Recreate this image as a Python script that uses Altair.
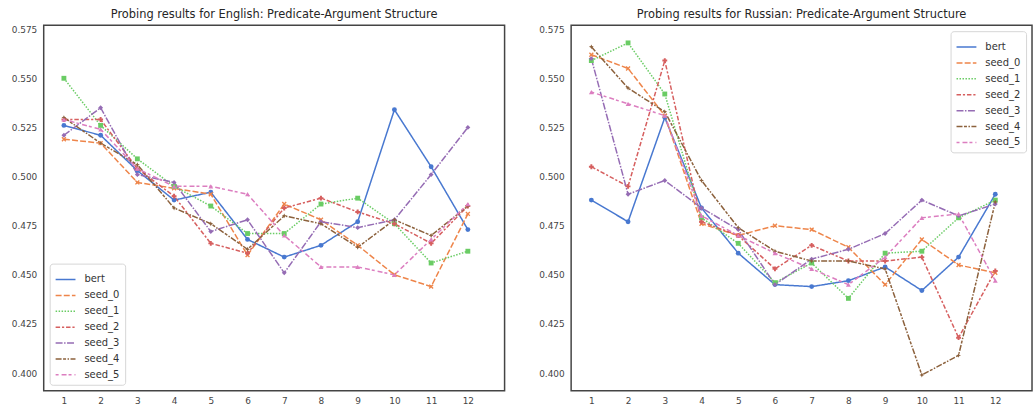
import altair as alt
import pandas as pd

layers = list(range(1, 13))
series = ["bert", "seed_0", "seed_1", "seed_2", "seed_3", "seed_4", "seed_5"]

en_bert = [0.526, 0.521, 0.503, 0.488, 0.492, 0.468, 0.459, 0.465, 0.477, 0.534, 0.505, 0.473]
en_seed_0 = [0.519, 0.517, 0.497, 0.494, 0.491, 0.460, 0.486, 0.478, 0.465, 0.450, 0.444, 0.481]
en_seed_1 = [0.550, 0.526, 0.509, 0.495, 0.485, 0.471, 0.471, 0.486, 0.489, 0.476, 0.456, 0.462]
en_seed_2 = [0.529, 0.529, 0.504, 0.490, 0.466, 0.461, 0.484, 0.489, 0.482, 0.476, 0.466, 0.485]
en_seed_3 = [0.521, 0.535, 0.501, 0.497, 0.472, 0.478, 0.451, 0.477, 0.474, 0.478, 0.501, 0.525]
en_seed_4 = [0.530, 0.517, 0.506, 0.484, 0.476, 0.463, 0.480, 0.476, 0.464, 0.478, 0.470, 0.485]
en_seed_5 = [0.529, 0.524, 0.504, 0.495, 0.495, 0.491, 0.470, 0.454, 0.454, 0.450, 0.468, 0.486]

ru_bert = [0.488, 0.477, 0.530, 0.484, 0.461, 0.445, 0.444, 0.447, 0.454, 0.442, 0.459, 0.491]
ru_seed_0 = [0.562, 0.555, 0.531, 0.476, 0.470, 0.475, 0.473, 0.464, 0.445, 0.468, 0.455, 0.451]
ru_seed_1 = [0.559, 0.568, 0.542, 0.479, 0.466, 0.446, 0.456, 0.438, 0.461, 0.462, 0.479, 0.488]
ru_seed_2 = [0.505, 0.495, 0.559, 0.477, 0.470, 0.453, 0.465, 0.457, 0.457, 0.459, 0.418, 0.452]
ru_seed_3 = [0.560, 0.491, 0.498, 0.484, 0.473, 0.445, 0.458, 0.463, 0.471, 0.488, 0.480, 0.486]
ru_seed_4 = [0.566, 0.545, 0.533, 0.498, 0.474, 0.462, 0.457, 0.457, 0.453, 0.399, 0.409, 0.487]
ru_seed_5 = [0.543, 0.537, 0.531, 0.480, 0.470, 0.461, 0.453, 0.445, 0.459, 0.479, 0.481, 0.447]

y_ticks = [0.400, 0.425, 0.450, 0.475, 0.500, 0.525, 0.550, 0.575]

colors = ["#4878d0", "#ee854a", "#6acc64", "#d65f5f", "#956cb4", "#8c613c", "#dc7ec0"]
dashes = [[1, 0], [6, 2.2], [1.5, 1.5], [4.5, 1.9, 2.2, 1.9], [7, 1.5, 1.5, 1.5],
          [6, 1.5, 3, 1.5, 1.5, 1.5], [3, 3, 5, 2]]
shapes = [
    "circle",
    "M-1,-0.6L-0.6,-1L0,-0.4L0.6,-1L1,-0.6L0.4,0L1,0.6L0.6,1L0,0.4L-0.6,1L-1,0.6L-0.4,0Z",
    "square",
    "cross",
    "diamond",
    "M0,-1L0.3,-0.3L1,0L0.3,0.3L0,1L-0.3,0.3L-1,0L-0.3,-0.3Z",
    "triangle-up",
]


def make_df(cols):
    rows = []
    for name, vals in zip(series, cols):
        for l, v in zip(layers, vals):
            rows.append({"layer": l, "value": v, "series": name})
    return pd.DataFrame(rows)


df_en = make_df([en_bert, en_seed_0, en_seed_1, en_seed_2, en_seed_3, en_seed_4, en_seed_5])
df_ru = make_df([ru_bert, ru_seed_0, ru_seed_1, ru_seed_2, ru_seed_3, ru_seed_4, ru_seed_5])

W, H = 464, 368


def panel(df, title, legend_orient, yaxis_pad):
    x = alt.X("layer:Q", scale=alt.Scale(domain=[0.45, 13.0], nice=False, zero=False),
              axis=alt.Axis(values=layers, title=None, grid=False, domain=False, ticks=False,
                            tickSize=0, labelPadding=6, labelFontSize=9, labelColor="#444",
                            labelFont="DejaVu Sans", labelFlush=False))
    y = alt.Y("value:Q", scale=alt.Scale(domain=[0.391, 0.577], nice=False, zero=False),
              axis=alt.Axis(values=y_ticks, format=".3f", title=None, grid=False, domain=False,
                            ticks=False, tickSize=0, labelPadding=yaxis_pad, labelFontSize=9,
                            labelColor="#444", labelFont="DejaVu Sans", labelFlush=False))
    leg = alt.Legend(title=None, orient=legend_orient, offset=6, symbolType="stroke",
                     symbolSize=400, symbolStrokeWidth=1.5, labelFontSize=10,
                     labelFont="DejaVu Sans", labelColor="#333", rowPadding=-4.5,
                     padding=5, cornerRadius=3, strokeColor="#d6d6d6", fillColor="white",
                     labelOffset=8)
    cscale = alt.Scale(domain=series, range=colors)
    base = alt.Chart(df)
    lines = base.mark_line(strokeWidth=1.5).encode(
        x=x, y=y,
        color=alt.Color("series:N", scale=cscale, legend=leg),
        strokeDash=alt.StrokeDash("series:N", scale=alt.Scale(domain=series, range=dashes), legend=leg),
        detail="series:N",
    )
    pts = base.mark_point(filled=True, size=24, opacity=1, strokeWidth=0).encode(
        x=x, y=y,
        color=alt.Color("series:N", scale=cscale, legend=leg),
        shape=alt.Shape("series:N", scale=alt.Scale(domain=series, range=shapes), legend=None),
    )
    return alt.layer(lines, pts).properties(
        width=W, height=H,
        title=alt.TitleParams(title, fontSize=11.5, font="DejaVu Sans", color="#262626",
                              fontWeight="normal", offset=5, anchor="middle"),
    )


left = panel(df_en, "Probing results for English: Predicate-Argument Structure", "bottom-left", 7)
right = panel(df_ru, "Probing results for Russian: Predicate-Argument Structure", "top-right", 7)

chart = alt.hconcat(left, right, spacing=32).properties(
    padding={"left": 10, "top": 6, "right": 2, "bottom": 2},
    background="white",
).configure_view(stroke="#444", strokeWidth=1.5)

chart.save("out.html", embed_options={"renderer": "svg", "actions": False})
